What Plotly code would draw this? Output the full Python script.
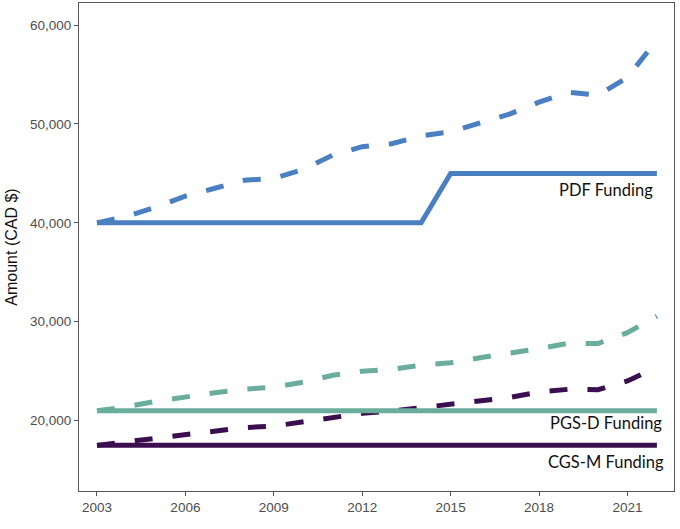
import plotly.graph_objects as go

years = list(range(2003, 2023))

# flat award amounts
pdf_funding = [40000] * 12 + [45000] * 8
pgsd_funding = [21000] * 20
cgsm_funding = [17500] * 20

# amounts adjusted for inflation
pdf_adjusted = [40000, 40650, 41600, 42700, 43500, 44300, 44500, 45400, 46850, 47700,
                48000, 48800, 49200, 50100, 51000, 52200, 53200, 52900, 54700, 58500]
pgsd_adjusted = [21000, 21400, 21960, 22420, 22820, 23180, 23380, 23880, 24590, 25000,
                 25180, 25610, 25860, 26360, 26770, 27280, 27830, 27800, 28900, 30550]
cgsm_adjusted = [17500, 17850, 18240, 18640, 18950, 19300, 19450, 19880, 20360, 20740,
                 20970, 21300, 21580, 21930, 22340, 22900, 23170, 23130, 24010, 25420]

labels = ["PDF Funding", "PGS-D Funding", "CGS-M Funding"]
label_y = [43300, 19770, 15820]

x_ticks = [2003, 2006, 2009, 2012, 2015, 2018, 2021]
y_ticks = [20000, 30000, 40000, 50000, 60000]
y_ticktext = ["20,000", "30,000", "40,000", "50,000", "60,000"]

BLUE = "#4a7fc1"
TEAL = "#6aad9d"
PURPLE = "#3b0f4f"
AXIS_FONT = "Arial"

fig = go.Figure()

series = [
    (pdf_adjusted, BLUE, "18px,20px"),
    (pgsd_adjusted, TEAL, "18px,20px"),
    (cgsm_adjusted, PURPLE, "18px,20px"),
    (pdf_funding, BLUE, "solid"),
    (pgsd_funding, TEAL, "solid"),
    (cgsm_funding, PURPLE, "solid"),
]
for vals, col, dash in series:
    fig.add_trace(go.Scatter(
        x=years, y=vals, mode="lines",
        line=dict(color=col, width=5, dash=dash),
        showlegend=False, hoverinfo="skip",
    ))

for txt, yv in zip(labels, label_y):
    fig.add_annotation(
        x=2020.27, y=yv, text=txt, showarrow=False,
        xanchor="center", yanchor="middle",
        font=dict(family="Lato", size=16.5, color="#111111"),
    )

fig.update_layout(
    width=680, height=529,
    margin=dict(l=79, r=6, t=3, b=38),
    paper_bgcolor="white",
    plot_bgcolor="white",
    font=dict(family=AXIS_FONT),
)

fig.update_xaxes(
    range=[2002.39, 2022.58],
    tickmode="array", tickvals=x_ticks,
    ticks="outside", ticklen=4, tickcolor="#555555",
    tickfont=dict(family=AXIS_FONT, size=13.5, color="#4d4d4d"),
    showgrid=False, zeroline=False,
    showline=True, linecolor="#555555", linewidth=1, mirror=True,
)

fig.update_yaxes(
    range=[12885, 62230],
    tickmode="array", tickvals=y_ticks, ticktext=y_ticktext,
    ticks="outside", ticklen=4, tickcolor="#555555",
    tickfont=dict(family=AXIS_FONT, size=13.5, color="#4d4d4d"),
    title=dict(text="Amount (CAD $)", font=dict(family=AXIS_FONT, size=16, color="#111111"), standoff=8),
    showgrid=False, zeroline=False,
    showline=True, linecolor="#555555", linewidth=1, mirror=True,
)

# drop the browser's default page margin so the figure sits at the window corner
fig.write_html(
    "out.html",
    config={"displayModeBar": False},
    post_script="document.body.style.margin='0px';",
)
